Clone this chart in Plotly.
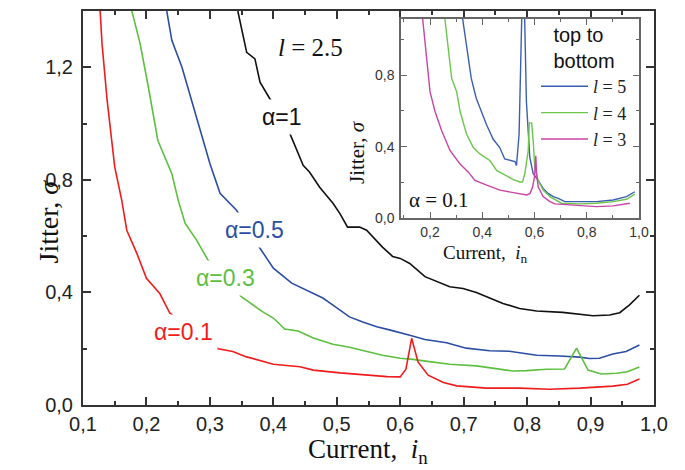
import plotly.graph_objects as go

# ---------------- main panel data (l = 2.5) ----------------
x_a1 = [0.344, 0.358, 0.371, 0.379, 0.394, 0.426, 0.447, 0.457, 0.473, 0.494, 0.505, 0.517, 0.536, 0.547,
        0.572, 0.588, 0.600, 0.615, 0.639, 0.662, 0.678, 0.699, 0.720, 0.741, 0.762, 0.788, 0.815, 0.856,
        0.883, 0.904, 0.930, 0.946, 0.961, 0.977]
y_a1 = [1.400, 1.253, 1.230, 1.147, 1.090, 0.965, 0.852, 0.828, 0.774, 0.717, 0.680, 0.632, 0.632, 0.621,
        0.561, 0.528, 0.521, 0.503, 0.456, 0.436, 0.420, 0.414, 0.400, 0.380, 0.361, 0.343, 0.334, 0.329,
        0.322, 0.317, 0.320, 0.328, 0.355, 0.390]

x_a05 = [0.232, 0.240, 0.256, 0.279, 0.300, 0.316, 0.327, 0.342, 0.379, 0.400, 0.429, 0.457, 0.478, 0.494,
         0.520, 0.541, 0.563, 0.583, 0.600, 0.615, 0.639, 0.673, 0.704, 0.741, 0.772, 0.815, 0.851, 0.883,
         0.898, 0.914, 0.935, 0.956, 0.977]
y_a05 = [1.400, 1.296, 1.200, 1.023, 0.858, 0.752, 0.728, 0.692, 0.557, 0.486, 0.433, 0.402, 0.380, 0.355,
         0.313, 0.295, 0.278, 0.267, 0.258, 0.248, 0.233, 0.221, 0.202, 0.193, 0.191, 0.177, 0.174, 0.170,
         0.165, 0.166, 0.181, 0.190, 0.213]

x_a03 = [0.177, 0.190, 0.203, 0.218, 0.240, 0.250, 0.261, 0.279, 0.297, 0.350, 0.384, 0.400, 0.418, 0.439,
         0.463, 0.494, 0.520, 0.547, 0.572, 0.600, 0.620, 0.646, 0.678, 0.720, 0.751, 0.777, 0.799, 0.831,
         0.859, 0.878, 0.896, 0.917, 0.941, 0.958, 0.977]
y_a03 = [1.400, 1.284, 1.130, 0.940, 0.822, 0.728, 0.645, 0.586, 0.515, 0.384, 0.330, 0.309, 0.270, 0.263,
         0.238, 0.216, 0.205, 0.190, 0.177, 0.166, 0.162, 0.154, 0.145, 0.139, 0.130, 0.121, 0.122, 0.127,
         0.128, 0.202, 0.124, 0.110, 0.113, 0.118, 0.135]

x_a01 = [0.127, 0.130, 0.138, 0.150, 0.161, 0.169, 0.185, 0.200, 0.221, 0.237, 0.313, 0.336, 0.358, 0.400,
         0.442, 0.463, 0.505, 0.547, 0.579, 0.600, 0.609, 0.618, 0.628, 0.644, 0.668, 0.689, 0.736, 0.788,
         0.835, 0.883, 0.935, 0.958, 0.977]
y_a01 = [1.400, 1.284, 1.083, 0.846, 0.728, 0.621, 0.538, 0.450, 0.396, 0.326, 0.200, 0.190, 0.171, 0.145,
         0.136, 0.124, 0.114, 0.106, 0.101, 0.100, 0.127, 0.237, 0.153, 0.106, 0.080, 0.068, 0.060, 0.060,
         0.056, 0.060, 0.067, 0.074, 0.092]

# ---------------- inset data (alpha = 0.1) ----------------
x_l5 = [0.325, 0.342, 0.358, 0.377, 0.397, 0.416, 0.442, 0.467, 0.486, 0.505, 0.525, 0.531, 0.541, 0.557,
        0.569, 0.582, 0.595, 0.614, 0.633, 0.652, 0.672, 0.691, 0.716, 0.773, 0.837, 0.901, 0.952, 0.984]
y_l5 = [1.115, 0.929, 0.782, 0.671, 0.598, 0.524, 0.441, 0.395, 0.331, 0.322, 0.316, 0.294, 0.469, 1.500,
        0.653, 0.340, 0.248, 0.211, 0.166, 0.138, 0.120, 0.110, 0.092, 0.092, 0.092, 0.101, 0.120, 0.147]

x_l4 = [0.257, 0.270, 0.283, 0.302, 0.315, 0.340, 0.366, 0.391, 0.410, 0.429, 0.455, 0.480, 0.519, 0.544,
        0.554, 0.563, 0.576, 0.580, 0.589, 0.595, 0.601, 0.614, 0.633, 0.659, 0.684, 0.703, 0.773, 0.837,
        0.901, 0.952, 0.984]
y_l4 = [1.115, 0.929, 0.782, 0.708, 0.598, 0.469, 0.395, 0.359, 0.340, 0.322, 0.267, 0.248, 0.215, 0.202,
        0.202, 0.248, 0.377, 0.533, 0.533, 0.432, 0.285, 0.211, 0.156, 0.120, 0.101, 0.083, 0.079, 0.083,
        0.092, 0.105, 0.134]

x_l3 = [0.172, 0.187, 0.200, 0.219, 0.245, 0.277, 0.315, 0.347, 0.372, 0.417, 0.468, 0.519, 0.570, 0.583,
        0.593, 0.600, 0.605, 0.608, 0.614, 0.633, 0.659, 0.678, 0.722, 0.773, 0.837, 0.901, 0.965]
y_l3 = [1.115, 0.874, 0.708, 0.598, 0.487, 0.377, 0.303, 0.257, 0.211, 0.184, 0.156, 0.142, 0.129, 0.138,
        0.175, 0.230, 0.349, 0.248, 0.175, 0.120, 0.092, 0.079, 0.074, 0.068, 0.064, 0.068, 0.083]

main_names = ["α=1", "α=0.5", "α=0.3", "α=0.1"]
inset_names = ["<i>l</i> = 5", "<i>l</i> = 4", "<i>l</i> = 3"]

SANS = "Liberation Sans, Arial, sans-serif"
SERIF = "Liberation Serif, Times New Roman, serif"

c_black, c_blue, c_green, c_red = "#111111", "#2b4ea3", "#5cbf3f", "#f01c1c"
c_iblue, c_igreen, c_imag = "#3b5fb0", "#6cc64c", "#c844a6"

fig = go.Figure()
for xs, ys, c, n in [(x_a1, y_a1, c_black, main_names[0]), (x_a05, y_a05, c_blue, main_names[1]),
                     (x_a03, y_a03, c_green, main_names[2]), (x_a01, y_a01, c_red, main_names[3])]:
    fig.add_trace(go.Scatter(x=xs, y=ys, mode="lines", name=n, showlegend=False,
                             line=dict(color=c, width=1.6), xaxis="x", yaxis="y"))

for xs, ys, c, n in [(x_l5, y_l5, c_iblue, inset_names[0]), (x_l4, y_l4, c_igreen, inset_names[1]),
                     (x_l3, y_l3, c_imag, inset_names[2])]:
    fig.add_trace(go.Scatter(x=xs, y=ys, mode="lines", name=n, showlegend=True,
                             line=dict(color=c, width=1.4), xaxis="x2", yaxis="y2"))

# the page puts the figure 8 px in from the window's top-left corner
OFF = 8
W, H = 685 - OFF, 470 - OFF
def px(v):
    return (v - OFF) / W
def py(v):
    return 1 - (v - OFF) / H

axis_main = dict(showline=True, linewidth=2, linecolor="#333333", mirror="ticks", ticks="inside",
                 ticklen=8, tickwidth=1.5, tickcolor="#333333", showgrid=False, zeroline=False,
                 automargin=False,
                 tickfont=dict(family=SANS, size=20, color="#222222"))
axis_in = dict(showline=True, linewidth=1.5, linecolor="#666666", mirror="ticks", ticks="inside",
               ticklen=6, tickwidth=1.2, tickcolor="#666666", showgrid=False, zeroline=False,
               automargin=False,
               tickfont=dict(family=SANS, size=14, color="#333333"))

fig.update_layout(
    width=W, height=H, margin=dict(l=0, r=0, t=0, b=0, autoexpand=False),
    paper_bgcolor="white", plot_bgcolor="white", separators=", ",
    xaxis=dict(axis_main, domain=[px(83), px(654)], range=[0.1, 1.0], tick0=0.1, dtick=0.1,
               tickformat=".1f", anchor="y",
               minor=dict(ticks="inside", dtick=0.05, tick0=0.1, ticklen=4, tickcolor="#333333")),
    yaxis=dict(axis_main, domain=[py(405), py(11)], range=[0, 1.4], tick0=0, dtick=0.4,
               tickformat=".1f", anchor="x", ticklabelstandoff=4,
               minor=dict(ticks="inside", dtick=0.2, tick0=0, ticklen=4, tickcolor="#333333")),
    xaxis2=dict(axis_in, domain=[px(401), px(639)], range=[0.089, 1.0], tick0=0.2, dtick=0.2,
                tickformat=".1f", anchor="y2",
                minor=dict(ticks="inside", dtick=0.1, tick0=0.2, ticklen=3, tickcolor="#666666")),
    yaxis2=dict(axis_in, domain=[py(218), py(19)], range=[0, 1.115], tick0=0, dtick=0.4,
                tickformat=".1f", anchor="x2", ticklabelstandoff=2,
                minor=dict(ticks="inside", dtick=0.2, tick0=0, ticklen=3, tickcolor="#666666")),
    legend=dict(x=px(536), y=py(16), xanchor="left", yanchor="top", bgcolor="rgba(0,0,0,0)",
                font=dict(family=SERIF, size=18, color="#222222"), itemwidth=47,
                title=dict(text="top to<br>bottom", side="top center",
                           font=dict(family=SANS, size=20, color="#111111")),
                tracegroupgap=0),
)

ann = []
# curve labels (white box hides the curve behind the label)
for text, x, y, c in [(main_names[0], 0.413, 1.022, c_black), (main_names[1], 0.371, 0.621, c_blue),
                      (main_names[2], 0.325, 0.451, c_green), (main_names[3], 0.259, 0.259, c_red)]:
    ann.append(dict(text=text, x=x, y=y, xref="x", yref="y", showarrow=False, bgcolor="white",
                    borderpad=4, font=dict(family=SANS, size=23, color=c)))
ann.append(dict(text="<i>l</i> = 2.5", x=0.459, y=1.271, xref="x", yref="y", showarrow=False,
                font=dict(family=SERIF, size=25, color="#111111")))
ann.append(dict(text="α = 0.1", x=0.234, y=0.101, xref="x2", yref="y2", showarrow=False,
                font=dict(family=SERIF, size=21, color="#111111")))
# axis titles
ann.append(dict(text="Current,  <i>i</i><sub>n</sub>", x=px(368), y=0, xref="paper", yref="paper",
                yanchor="bottom", showarrow=False, font=dict(family=SERIF, size=27, color="#111111")))
ann.append(dict(text="Jitter, <i>σ</i>", x=px(30), y=py(222), xref="paper", yref="paper", textangle=-90,
                showarrow=False, font=dict(family=SERIF, size=28, color="#111111")))
ann.append(dict(text="Current,  <i>i</i><sub>n</sub>", x=px(530), y=py(268), xref="paper", yref="paper",
                yanchor="bottom", showarrow=False, font=dict(family=SERIF, size=19, color="#111111")))
ann.append(dict(text="Jitter, <i>σ</i>", x=px(357), y=py(118), xref="paper", yref="paper", textangle=-90,
                showarrow=False, font=dict(family=SERIF, size=21, color="#111111")))
fig.update_layout(annotations=ann)

fig.write_html("out.html")
